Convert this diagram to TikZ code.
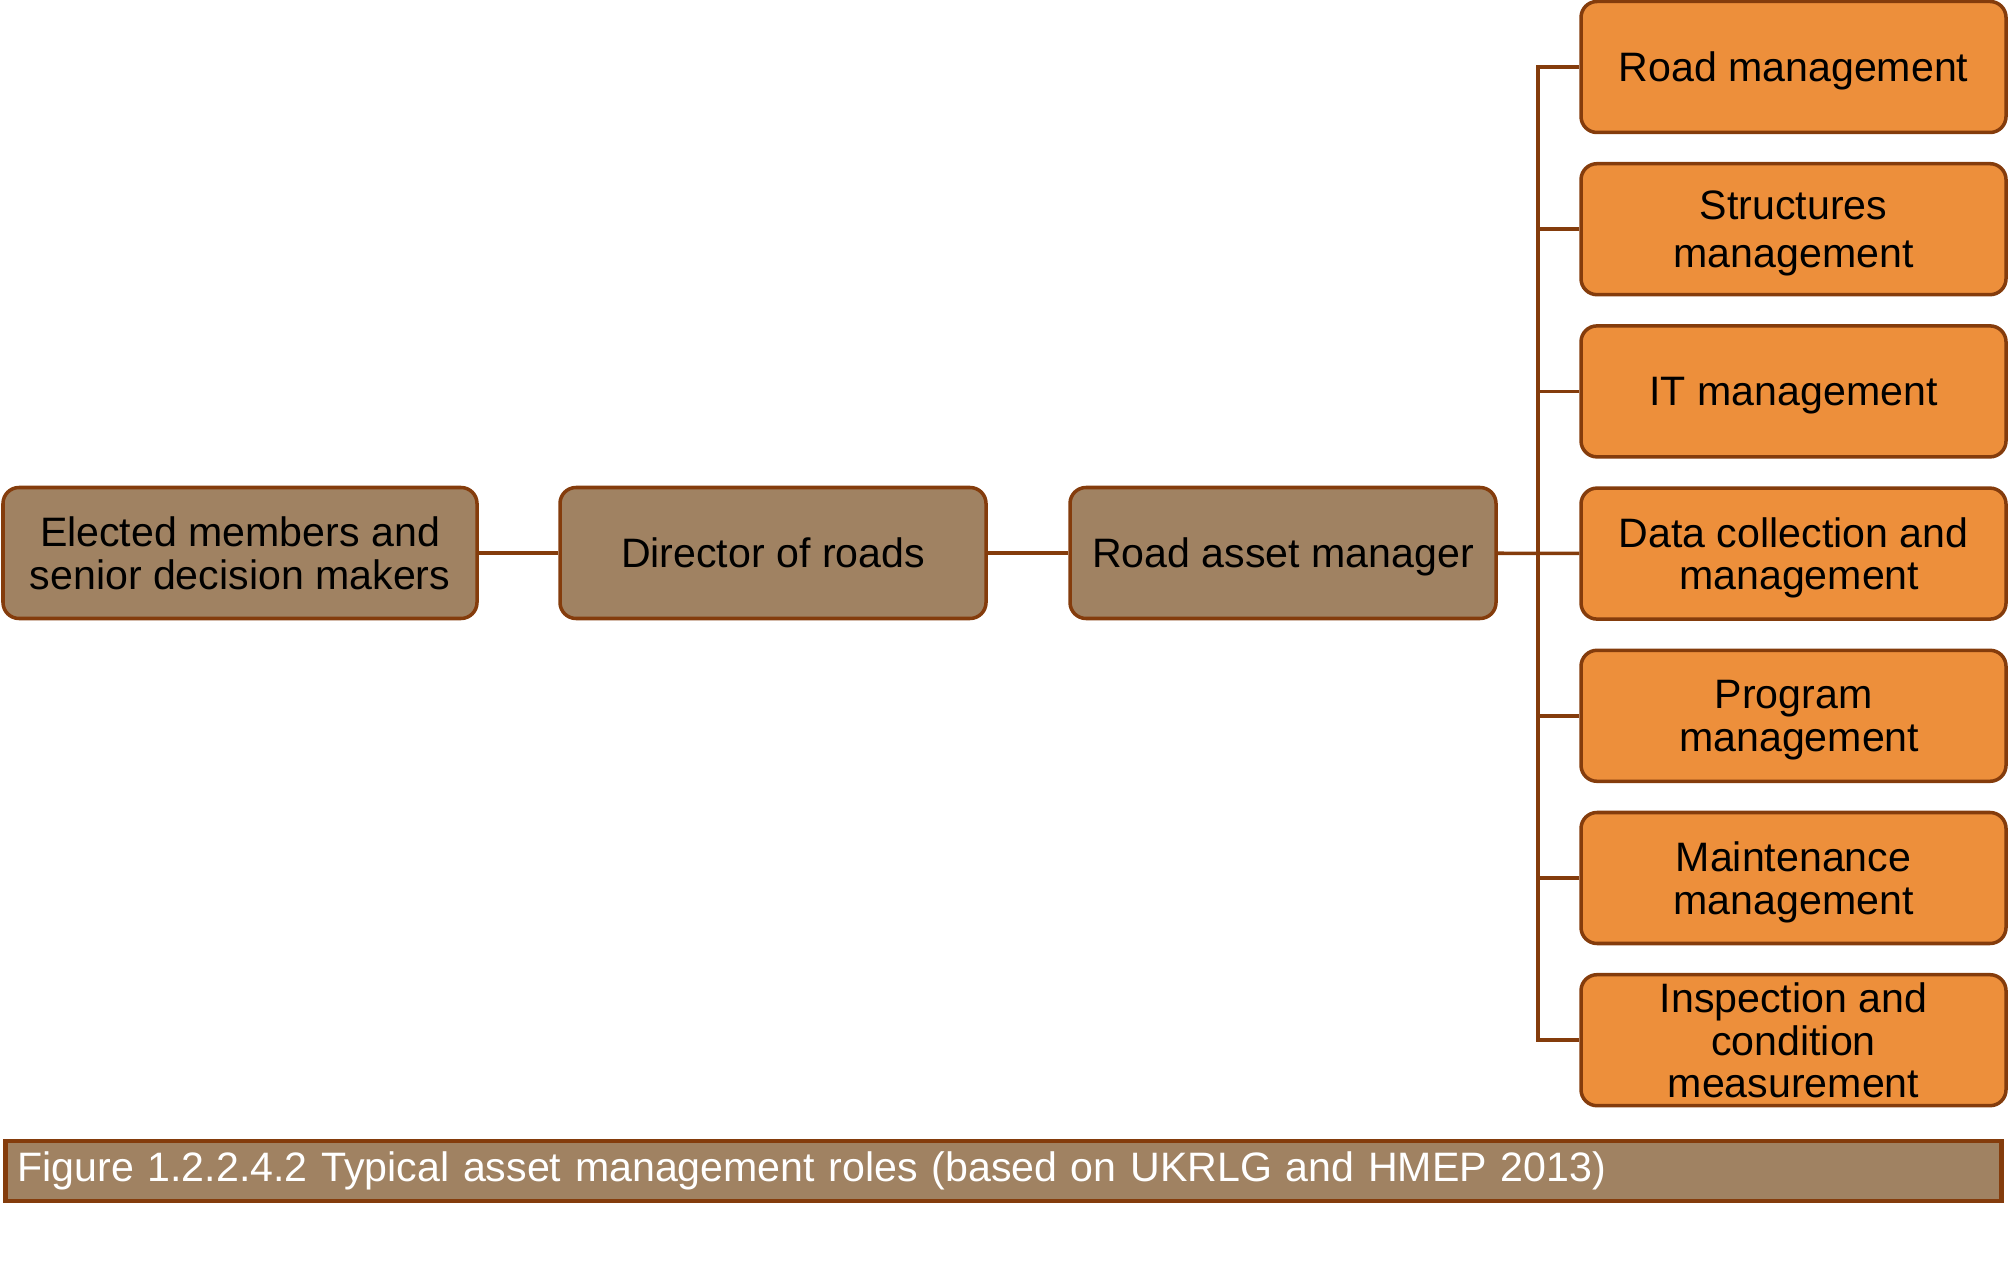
\documentclass[tikz,border=0pt]{standalone}
\usepackage{fontspec}
\setmainfont{Liberation Sans}
\definecolor{rolebrown}{RGB}{160,130,98}
\definecolor{roleorange}{RGB}{237,143,59}
\definecolor{roleedge}{RGB}{132,60,12}
\begin{document}
\begin{tikzpicture}[
		rolebox/.style={rectangle, rounded corners=0.16cm, draw=roleedge, line width=1pt, align=center, inner sep=0pt, minimum height=1.31cm, text depth=0pt, font=\fontsize{11.7}{12.2}\selectfont},
		topbox/.style={rolebox, fill=rolebrown, minimum width=4.26cm},
		subbox/.style={rolebox, fill=roleorange, minimum width=4.25cm},
		link/.style={draw=roleedge, line width=1pt}
	]
		\useasboundingbox (0,0) rectangle (20.1,12.64);
		\node[topbox, minimum width=4.74cm] (elected) at (2.40,7.11) {Elected members and\\senior decision makers};
		\node[topbox] (director) at (7.73,7.11) {Director of roads};
		\node[topbox] (ram) at (12.83,7.11) {Road asset manager};
		
		\foreach \n/\t [count=\i from 0] in {road/{Road management}, struct/{Structures\\[1.6pt]management}, it/{IT management}, data/{Data collection and\\\ management}, prog/{Program\\\ management}, maint/{Maintenance\\management}, insp/{Inspection and\\condition\\measurement}} {
			\node[subbox] (\n) at (17.935,{11.97-1.622*\i}) {\t};
		}
		\coordinate (trunk) at (15.38,0);
		
		\draw[link] (elected) -- (director);
		\draw[link] (director) -- (ram);
		\draw[link] (ram) -- (data);
		\draw[link] (road.west) -- (road.west -| trunk) -- (insp.west -| trunk) -- (insp.west);
		\foreach \n in {struct,it,prog,maint} {
			\draw[link] (\n.west) -- (\n.west -| trunk);
		}
		
		\node[rectangle, anchor=west, fill=rolebrown, draw=roleedge, line width=1.4pt, minimum height=0.6cm, inner xsep=0.12cm, inner ysep=0pt, text width=19.72cm, align=left, text=white, font=\fontsize{11.7}{13.4}\selectfont] (caption) at (0.03,0.93) {Figure 1.2.2.4.2 Typical asset management roles (based on UKRLG and HMEP 2013)};
	\end{tikzpicture}
\end{document}
